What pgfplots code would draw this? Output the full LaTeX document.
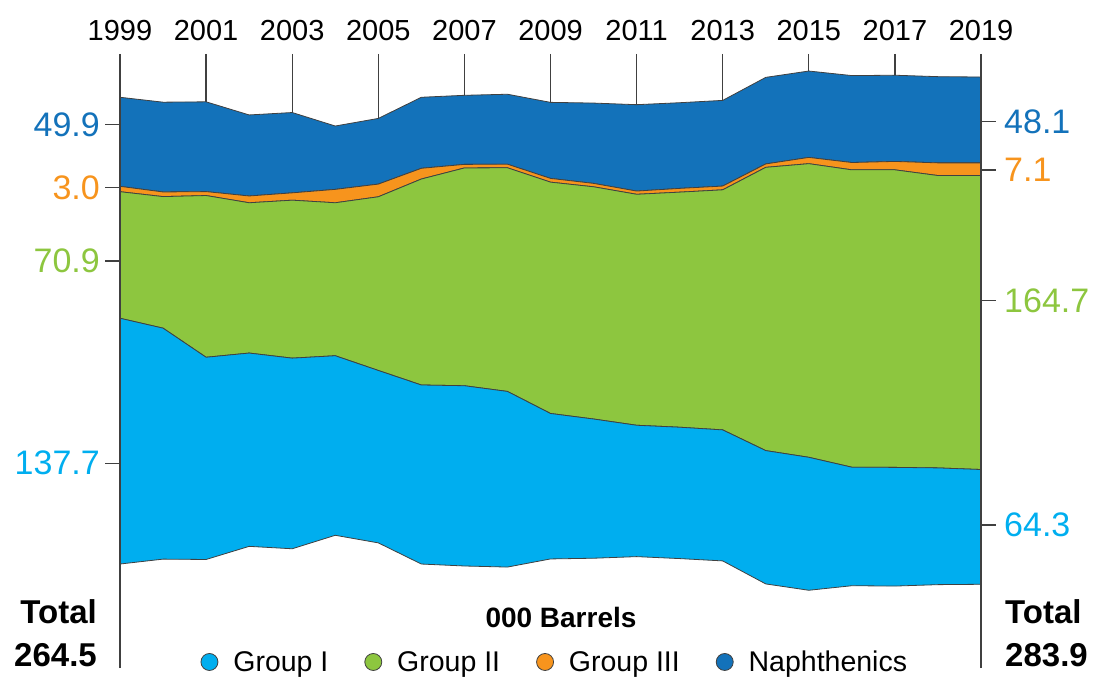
\documentclass[border=0pt]{standalone}
\usepackage{fontspec}
\setmainfont{Liberation Sans}
\usepackage{pgfplots}
\usepackage{pgfplotstable}
\pgfplotsset{compat=1.18}

\definecolor{gI}{HTML}{00AEEF}
\definecolor{gII}{HTML}{8DC63F}
\definecolor{gIII}{HTML}{F7941D}
\definecolor{naph}{HTML}{1372BA}
\definecolor{edge}{HTML}{404040}

% base = -total/2, so the stack is centred on zero
\pgfplotstableread{
year base    g1    g2    g3   na
1999 -130.75 137.7 70.9  3.0  49.9
2000 -128.00 129.4 73.7  2.6  50.3
2001 -128.20 113.3 90.6  2.2  50.3
2002 -120.85 108.3 84.2  3.8  45.4
2003 -122.20 106.8 88.5  4.1  45.0
2004 -114.65 100.6 85.7  7.5  35.5
2005 -118.90 96.6  97.3  7.1  36.8
2006 -130.75 100.3 115.4 6.0  39.8
2007 -131.85 101.0 122.0 2.0  38.7
2008 -132.45 98.4  125.3 2.0  39.2
2009 -127.90 81.5  129.6 2.1  42.6
2010 -127.50 78.0  130.1 1.9  45.0
2011 -126.60 73.6  129.4 1.8  48.4
2012 -127.70 73.6  131.7 2.1  48.0
2013 -129.00 73.4  134.5 2.1  48.0
2014 -141.90 74.7  158.7 1.9  48.5
2015 -145.45 74.5  164.5 3.5  48.4
2016 -142.90 66.4  166.6 4.1  48.7
2017 -143.10 66.5  166.7 4.7  48.3
2018 -142.30 65.4  163.8 7.1  48.3
2019 -142.10 64.3  164.7 7.1  48.1
}\data

\pgfplotsset{
  chartbox/.style={at={(120pt,9pt)}, anchor=south west, scale only axis,
    width=861pt, height=614pt, xmin=1999, xmax=2019, ymin=-189, ymax=155},
}

\begin{document}
\begin{tikzpicture}
\useasboundingbox (0,0) rectangle (1094pt,677pt);

% year ticks, hidden behind the areas
\begin{axis}[chartbox, axis line style={draw=none}, ytick=\empty,
  xtick={1999,2001,...,2019},
  xticklabels={1999,2001,2003,2005,2007,2009,2011,2013,2015,2017,2019},
  xtick pos=upper, xticklabel pos=upper, tick align=inside,
  major tick length=100pt, xtick style={draw=edge, line width=1.3pt},
  xticklabel style={font=\fontsize{29}{31}\selectfont, inner sep=0pt, yshift=13pt}]
\end{axis}

\begin{axis}[chartbox, axis line style={draw=none}, xtick=\empty, ytick=\empty,
  stack plots=y, area style,
  legend image code/.code={\filldraw[#1, line width=0.8pt] (8.5pt,0pt) circle (8.5pt);
    \path (30pt,0pt);},
  legend columns=4,
  legend style={at={(0.505,0.0098)}, anchor=center, draw=none, fill=none,
    font=\fontsize{28.5}{30}\selectfont,
    /tikz/every even column/.append style={column sep=34pt}}]
\addplot[draw=none, forget plot] table[x=year, y=base] {\data};
\addplot[fill=gI, draw=edge, line width=0.8pt] table[x=year, y=g1] {\data} \closedcycle;
\addplot[fill=gII, draw=edge, line width=0.8pt] table[x=year, y=g2] {\data} \closedcycle;
\addplot[fill=gIII, draw=edge, line width=0.8pt] table[x=year, y=g3] {\data} \closedcycle;
\addplot[fill=naph, draw=edge, line width=0.8pt] table[x=year, y=na] {\data} \closedcycle;
\legend{Group I, Group II, Group III, Naphthenics}
\end{axis}

% left labels and the two vertical lines
\begin{axis}[chartbox, separate axis lines, x axis line style={draw=none},
  y axis line style={draw=edge, line width=1.5pt}, xtick=\empty,
  ytick={-74.3,39.0,80.1,115.6},
  yticklabels={\textcolor{gI}{137.7},\textcolor{gII}{70.9},\textcolor{gIII}{3.0},\textcolor{naph}{49.9}},
  ytick pos=left, yticklabel pos=left, tick align=outside, major tick length=15pt,
  ytick style={draw=edge, line width=1.3pt},
  yticklabel style={font=\fontsize{34}{36}\selectfont, inner sep=0pt, xshift=-5pt}]
\end{axis}

% right labels
\begin{axis}[chartbox, axis line style={draw=none}, xtick=\empty,
  ytick={-108.9,16.8,90.0,117.1},
  yticklabels={\textcolor{gI}{64.3},\textcolor{gII}{164.7},\textcolor{gIII}{7.1},\textcolor{naph}{48.1}},
  ytick pos=right, yticklabel pos=right, tick align=outside, major tick length=15pt,
  ytick style={draw=edge, line width=1.3pt},
  yticklabel style={font=\fontsize{34}{36}\selectfont, inner sep=0pt, xshift=8pt}]
\end{axis}

\node[anchor=base, font=\bfseries\fontsize{28}{30}\selectfont] at (561pt,49pt) {000 Barrels};
\node[anchor=base east, inner sep=0pt, font=\bfseries\fontsize{33}{36}\selectfont] at (97pt,53pt) {Total};
\node[anchor=base east, inner sep=0pt, font=\bfseries\fontsize{33}{36}\selectfont] at (97pt,11pt) {264.5};
\node[anchor=base west, inner sep=0pt, font=\bfseries\fontsize{33}{36}\selectfont] at (1005pt,53pt) {Total};
\node[anchor=base west, inner sep=0pt, font=\bfseries\fontsize{33}{36}\selectfont] at (1005pt,11pt) {283.9};
\end{tikzpicture}
\end{document}
